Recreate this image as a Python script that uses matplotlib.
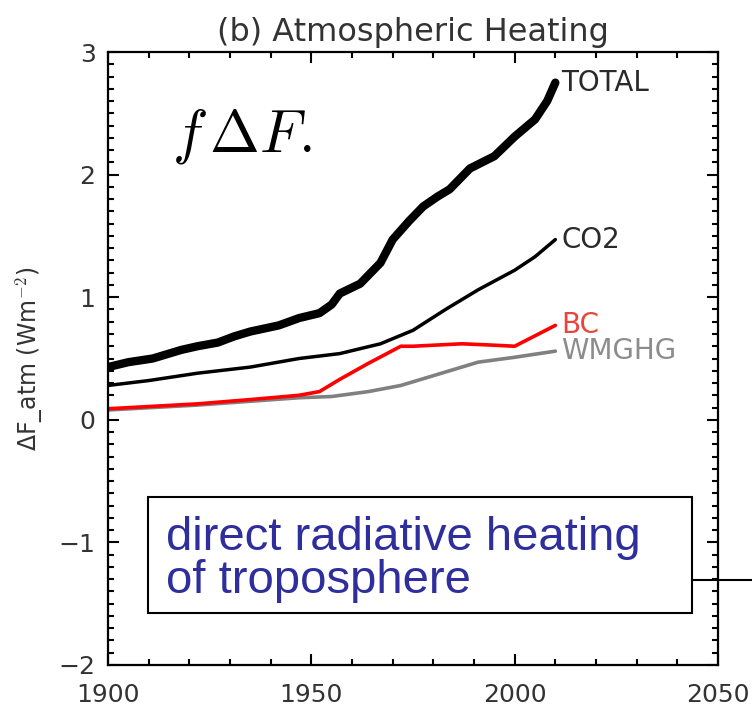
import matplotlib
matplotlib.use('Agg')
import matplotlib.pyplot as plt
from matplotlib.patches import Rectangle
from matplotlib.lines import Line2D
from matplotlib.ticker import MultipleLocator

plt.rcParams['font.family'] = ['DejaVu Sans']
plt.rcParams['mathtext.fontset'] = 'cm'

# Atmospheric heating series (W m-2)
total_years = [1900, 1905, 1911, 1918, 1922, 1927, 1931, 1935, 1942, 1947, 1952, 1955, 1957,
               1962, 1967, 1970, 1974, 1977.5, 1981, 1984, 1989, 1992, 1995, 2000, 2005, 2008, 2010]
total = [0.43, 0.47, 0.50, 0.57, 0.60, 0.63, 0.68, 0.72, 0.77, 0.83, 0.87, 0.94, 1.03,
         1.11, 1.28, 1.47, 1.62, 1.74, 1.82, 1.88, 2.05, 2.10, 2.15, 2.31, 2.45, 2.60, 2.75]

co2_years = [1900, 1910, 1922, 1935, 1947, 1957, 1962, 1967, 1975, 1983, 1991, 2000, 2005, 2010]
co2 = [0.28, 0.32, 0.38, 0.43, 0.50, 0.54, 0.58, 0.62, 0.73, 0.90, 1.06, 1.22, 1.33, 1.47]

bc_years = [1900, 1922, 1935, 1947, 1952, 1957, 1964, 1972, 1975, 1987, 1994, 2000, 2010]
bc = [0.09, 0.13, 0.165, 0.20, 0.23, 0.33, 0.46, 0.60, 0.60, 0.62, 0.61, 0.60, 0.77]

wmghg_years = [1900, 1922, 1947, 1955, 1964, 1972, 1975, 1983, 1991, 2000, 2010]
wmghg = [0.08, 0.12, 0.18, 0.19, 0.23, 0.28, 0.31, 0.39, 0.47, 0.51, 0.56]

series = [
    ('TOTAL', total_years, total, 'black', 6.0, '#2a2a2a'),
    ('CO2', co2_years, co2, 'black', 2.5, '#2a2a2a'),
    ('WMGHG', wmghg_years, wmghg, '#808080', 2.6, '#8c8c8c'),
    ('BC', bc_years, bc, '#ff0000', 2.6, '#e8453c'),
]

fig = plt.figure(figsize=(7.52, 7.11), dpi=100)
ax = fig.add_axes([108 / 752, 1 - 665 / 711, 610 / 752, 613 / 711])

for name, yrs, vals, col, lw, tcol in series:
    ax.plot(yrs, vals, color=col, lw=lw, solid_capstyle='round', solid_joinstyle='round')
    ax.text(yrs[-1] + 1.4, vals[-1], name, color=tcol, fontsize=20,
            ha='left', va='center')

ax.set_xlim(1900, 2050)
ax.set_ylim(-2, 3)
ax.set_xticks([1900, 1950, 2000, 2050])
ax.set_yticks([-2, -1, 0, 1, 2, 3])
ax.set_yticklabels(['\u22122', '\u22121', '0', '1', '2', '3'])
ax.xaxis.set_minor_locator(MultipleLocator(10))
ax.yaxis.set_minor_locator(MultipleLocator(0.1))
ax.tick_params(which='both', direction='in', top=True, right=True,
               labelsize=18, width=1.5, colors='black', labelcolor='#333333')
ax.tick_params(which='major', length=8, pad=9)
ax.tick_params(which='minor', length=4.5)
ax.tick_params(axis='x', which='major', pad=13)
for sp in ax.spines.values():
    sp.set_linewidth(1.6)

ax.set_title('(b) Atmospheric Heating', fontsize=23, color='#333333', pad=8)
ax.set_ylabel('\u0394F_atm (Wm$^{-2}$)', fontsize=17, color='#333333', labelpad=10)

ax.text(0.105, 0.837, r'$f\,\Delta F.$', transform=ax.transAxes,
        fontsize=43, ha='left', va='baseline')

# annotation box
ax.add_patch(Rectangle((0.0656, 0.0848), 0.8914, 0.19, transform=ax.transAxes,
                       fill=False, edgecolor='black', lw=1.5, clip_on=False, zorder=5))
ax.text(0.095, 0.172, 'direct radiative heating\nof troposphere', transform=ax.transAxes,
        fontsize=34, color='#2e2e9c', family='Liberation Sans', ha='left', va='center',
        linespacing=0.98)
fig.add_artist(Line2D([692 / 752, 1.0], [1 - 580 / 711, 1 - 580 / 711],
                      color='black', lw=1.5))

fig.savefig('out.png', dpi=100)
